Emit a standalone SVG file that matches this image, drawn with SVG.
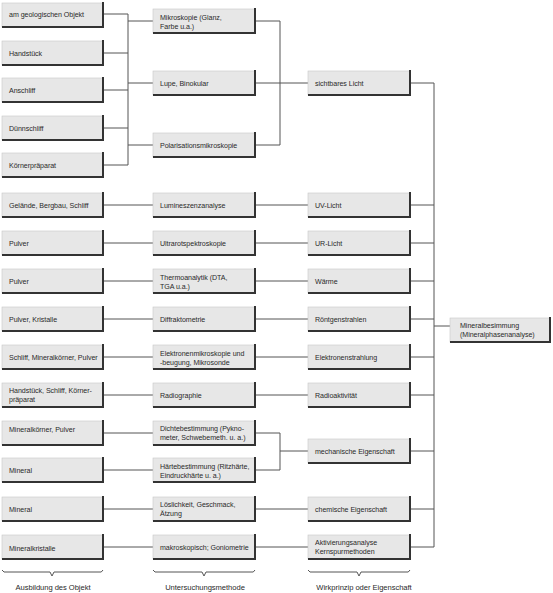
<svg xmlns="http://www.w3.org/2000/svg" width="553" height="593" viewBox="0 0 553 593">
<style>
.b{fill:#e7e7e7;stroke:#c8c8c8;stroke-width:0.6}
.s{fill:none;stroke:#333;stroke-width:2}
.c{fill:none;stroke:#555;stroke-width:1}
text{font-family:"Liberation Sans",Arial,sans-serif;font-size:7.1px;fill:#2a2a2a;letter-spacing:-0.05px}
.l{text-anchor:middle;font-size:7.6px}
</style>
<defs>
<g id="b1"><rect class="b" x="0" y="0" width="101" height="24"/><path class="s" d="M101,-1V24H0"/></g>
<g id="b2"><rect class="b" x="0" y="0" width="102" height="24"/><path class="s" d="M102,-1V24H0"/></g>
</defs>
<g id="connectors">
<path class="c" d="M103,14H128M103,53H128M103,90H128M103,128H128M103,165H128M128,14V165M128,21H153M128,83H153M128,145H153"/>
<path class="c" d="M255,21H280M255,83H308M255,145H280M280,21V145"/>
<path class="c" d="M103,205H153M103,243H153M103,281H153M103,319H153M103,357H153M103,395H153M103,433H153M103,470H153M103,509H153M103,547H153"/>
<path class="c" d="M255,205H308M255,243H308M255,281H308M255,319H308M255,357H308M255,395H308M255,509H308M255,547H308"/>
<path class="c" d="M255,433H280M255,470H280M280,433V470M280,451H308"/>
<path class="c" d="M410,83H434M410,205H434M410,243H434M410,281H434M410,319H434M410,357H434M410,395H434M410,451H434M410,509H434M410,547H434M434,83V547M434,326H450"/>
</g>
<g id="n1"><use href="#b1" x="2" y="3"/><text x="9" y="17">am geologischen Objekt</text></g>
<g id="n2"><use href="#b1" x="2" y="41"/><text x="9" y="56">Handstück</text></g>
<g id="n3"><use href="#b1" x="2" y="78"/><text x="9" y="93">Anschliff</text></g>
<g id="n4"><use href="#b1" x="2" y="116"/><text x="9" y="131">Dünnschliff</text></g>
<g id="n5"><use href="#b1" x="2" y="153"/><text x="9" y="168">Körnerpräparat</text></g>
<g id="n6"><use href="#b1" x="2" y="193"/><text x="9" y="208">Gelände, Bergbau, Schliff</text></g>
<g id="n7"><use href="#b1" x="2" y="231"/><text x="9" y="246">Pulver</text></g>
<g id="n8"><use href="#b1" x="2" y="269"/><text x="9" y="284">Pulver</text></g>
<g id="n9"><use href="#b1" x="2" y="307"/><text x="9" y="322">Pulver, Kristalle</text></g>
<g id="n10"><use href="#b1" x="2" y="345"/><text x="9" y="360">Schliff, Mineralkörner, Pulver</text></g>
<g id="n11"><use href="#b1" x="2" y="383"/><text x="9" y="393">Handstück, Schliff, Körner-</text><text x="9" y="402">präparat</text></g>
<g id="n12"><use href="#b1" x="2" y="421"/><text x="9" y="432">Mineralkörner, Pulver</text></g>
<g id="n13"><use href="#b1" x="2" y="458"/><text x="9" y="473">Mineral</text></g>
<g id="n14"><use href="#b1" x="2" y="497"/><text x="9" y="512">Mineral</text></g>
<g id="n15"><use href="#b1" x="2" y="535"/><text x="9" y="551">Mineralkristalle</text></g>
<g id="m1"><use href="#b2" x="153" y="9"/><text x="160" y="20">Mikroskopie (Glanz,</text><text x="160" y="29">Farbe u.a.)</text></g>
<g id="m2"><use href="#b2" x="153" y="71"/><text x="160" y="86">Lupe, Binokular</text></g>
<g id="m3"><use href="#b2" x="153" y="133"/><text x="160" y="148">Polarisationsmikroskopie</text></g>
<g id="m4"><use href="#b2" x="153" y="193"/><text x="160" y="208">Lumineszenzanalyse</text></g>
<g id="m5"><use href="#b2" x="153" y="231"/><text x="160" y="246">Ultrarotspektroskopie</text></g>
<g id="m6"><use href="#b2" x="153" y="269"/><text x="160" y="280">Thermoanalytik (DTA,</text><text x="160" y="289">TGA u.a.)</text></g>
<g id="m7"><use href="#b2" x="153" y="307"/><text x="160" y="322">Diffraktometrie</text></g>
<g id="m8"><use href="#b2" x="153" y="345"/><text x="160" y="356">Elektronenmikroskopie und</text><text x="160" y="365">-beugung, Mikrosonde</text></g>
<g id="m9"><use href="#b2" x="153" y="383"/><text x="160" y="398">Radiographie</text></g>
<g id="m10"><use href="#b2" x="153" y="421"/><text x="160" y="431">Dichtebestimmung (Pykno-</text><text x="160" y="440">meter, Schwebemeth. u. a.)</text></g>
<g id="m11"><use href="#b2" x="153" y="458"/><text x="160" y="469">Härtebestimmung (Ritzhärte,</text><text x="160" y="478">Eindruckhärte u. a.)</text></g>
<g id="m12"><use href="#b2" x="153" y="497"/><text x="160" y="507">Löslichkeit, Geschmack,</text><text x="160" y="516">Ätzung</text></g>
<g id="m13"><use href="#b2" x="153" y="535"/><text x="160" y="550">makroskopisch; Goniometrie</text></g>
<g id="p1"><use href="#b2" x="308" y="71"/><text x="315" y="86">sichtbares Licht</text></g>
<g id="p2"><use href="#b2" x="308" y="193"/><text x="315" y="208">UV-Licht</text></g>
<g id="p3"><use href="#b2" x="308" y="231"/><text x="315" y="246">UR-Licht</text></g>
<g id="p4"><use href="#b2" x="308" y="269"/><text x="315" y="284">Wärme</text></g>
<g id="p5"><use href="#b2" x="308" y="307"/><text x="315" y="322">Röntgenstrahlen</text></g>
<g id="p6"><use href="#b2" x="308" y="345"/><text x="315" y="360">Elektronenstrahlung</text></g>
<g id="p7"><use href="#b2" x="308" y="383"/><text x="315" y="398">Radioaktivität</text></g>
<g id="p8"><use href="#b2" x="308" y="439"/><text x="315" y="454">mechanische Eigenschaft</text></g>
<g id="p9"><use href="#b2" x="308" y="497"/><text x="315" y="512">chemische Eigenschaft</text></g>
<g id="p10"><use href="#b2" x="308" y="535"/><text x="315" y="545">Aktivierungsanalyse</text><text x="315" y="554">Kernspurmethoden</text></g>
<g id="r1"><rect class="b" x="450" y="318" width="100" height="24"/><path class="s" d="M550,317V342H450"/><text x="460" y="328">Mineralbesimmung</text><text x="460" y="337">(Mineralphasenanalyse)</text></g>
<g id="legend">
<path class="c" d="M2,570Q3,573 8,572H50L52,576L54,572H98Q102,573 103,570"/>
<path class="c" d="M153,570Q154,573 159,572H202L204,576L206,572H250Q254,573 255,570"/>
<path class="c" d="M308,570Q309,573 314,572H357L359,576L361,572H405Q409,573 410,570"/>
<text class="l" x="53" y="590">Ausbildung des Objekt</text>
<text class="l" x="205" y="590">Untersuchungsmethode</text>
<text class="l" x="364" y="590">Wirkprinzip oder Eigenschaft</text>
</g>
</svg>
